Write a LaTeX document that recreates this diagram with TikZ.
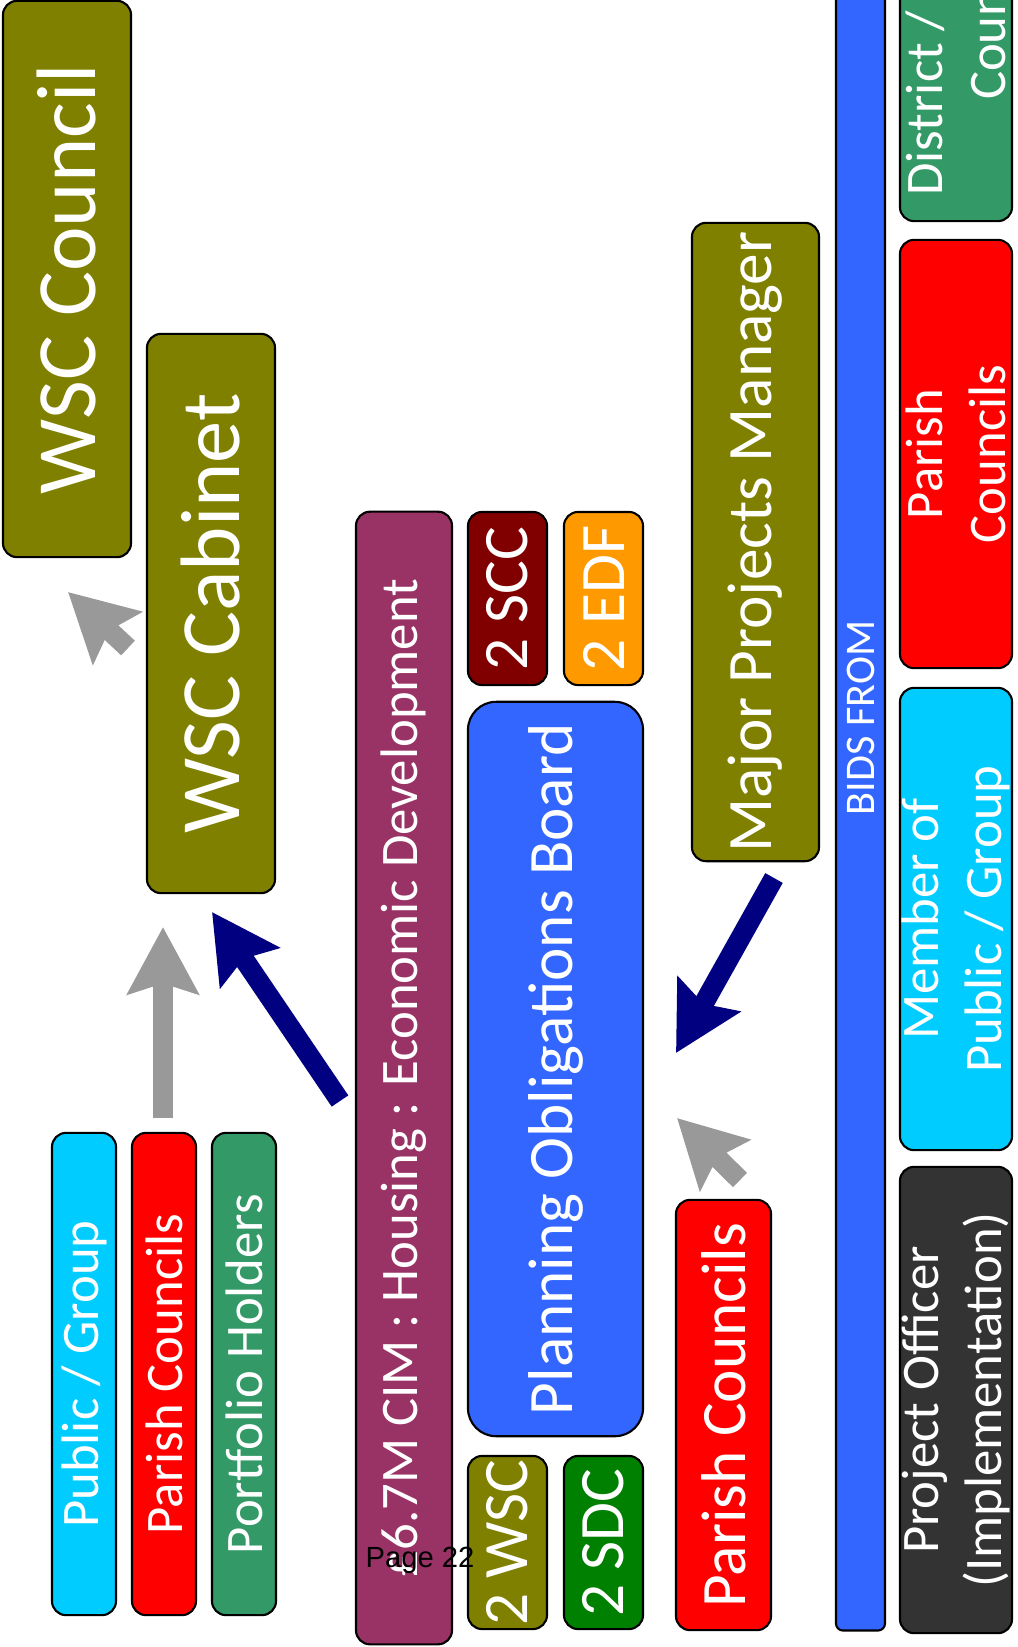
\documentclass[tikz,border=0pt]{standalone}
\usepackage{fontspec}
\setmainfont{Carlito}
\newfontfamily\pagefont{Liberation Sans}
\usetikzlibrary{arrows.meta}
\definecolor{wscolive}{HTML}{808000}
\definecolor{cimplum}{HTML}{993366}
\definecolor{sccred}{HTML}{800000}
\definecolor{edforange}{HTML}{FF9900}
\definecolor{pobblue}{HTML}{3366FF}
\definecolor{sdcgreen}{HTML}{008000}
\definecolor{teal}{HTML}{339966}
\definecolor{skycyan}{HTML}{00CCFF}
\definecolor{parishred}{HTML}{FF0000}
\definecolor{officer}{HTML}{333333}
\definecolor{flownavy}{HTML}{000080}
\definecolor{flowgrey}{HTML}{999999}
\tikzset{
  % lådor
  blk/.style={draw=black,line width=0.6pt,rounded corners=4pt,text=white,
              rotate=90,inner sep=0pt,align=center},
  hugetxt/.style={font=\fontsize{24}{29}\selectfont},
  bigtxt/.style={font=\fontsize{18}{22}\selectfont},
  midtxt/.style={font=\fontsize{15}{18}\selectfont},
  smltxt/.style={font=\fontsize{12}{14}\selectfont},
  % pilar
  flow/.style={line width=5.7pt,-{Stealth[length=19pt,width=20pt,inset=3pt]}},
  greyflow/.style={flow,draw=flowgrey},
  navyflow/.style={flow,draw=flownavy},
}
\begin{document}
\begin{tikzpicture}[x=0.01cm,y=-0.01cm]
  \useasboundingbox (0,0) rectangle (1017,1647);
  % vänster kolumn
  \node[blk,hugetxt,fill=wscolive,minimum width=5.56cm,minimum height=1.28cm] (council) at (67,279) {WSC Council};
  \node[blk,hugetxt,fill=wscolive,minimum width=5.59cm,minimum height=1.28cm] (cabinet) at (211,613.5) {WSC Cabinet};
  \node[blk,midtxt,fill=skycyan,minimum width=4.82cm,minimum height=0.64cm] (pubgrp) at (84,1374) {Public / Group};
  \node[blk,midtxt,fill=parishred,minimum width=4.82cm,minimum height=0.64cm] (parisha) at (164,1374) {Parish Councils};
  \node[blk,midtxt,fill=teal,minimum width=4.82cm,minimum height=0.64cm] (portf) at (244,1374) {Portfolio Holders};
  % mitten
  \node[blk,midtxt,fill=cimplum,minimum width=11.32cm,minimum height=0.96cm] (cim) at (404,1078) {£6.7M CIM : Housing : Economic Development};
  \node[blk,bigtxt,fill=sccred,minimum width=1.73cm,minimum height=0.79cm] (scc) at (507.5,598.5) {2 SCC};
  \node[blk,bigtxt,fill=edforange,minimum width=1.73cm,minimum height=0.79cm] (edf) at (603.5,598.5) {2 EDF};
  \node[blk,bigtxt,fill=pobblue,rounded corners=8pt,minimum width=7.34cm,minimum height=1.75cm] (pob) at (555.5,1069) {Planning Obligations Board};
  \node[blk,bigtxt,fill=wscolive,minimum width=1.73cm,minimum height=0.79cm] (wsc) at (507.5,1542.5) {2 WSC};
  \node[blk,bigtxt,fill=sdcgreen,minimum width=1.73cm,minimum height=0.79cm] (sdc) at (603.5,1542.5) {2 SDC};
  \node[blk,bigtxt,fill=wscolive,minimum width=6.38cm,minimum height=1.27cm] (mpm) at (755.5,542) {Major Projects Manager};
  \node[blk,bigtxt,fill=parishred,minimum width=4.30cm,minimum height=0.95cm] (parishb) at (723.5,1415) {Parish Councils};
  % höger kolumn
  \node[blk,smltxt,fill=pobblue,rounded corners=2pt,minimum width=18.24cm,minimum height=0.49cm] (bids) at (860.5,718) {BIDS FROM};
  \node[blk,midtxt,fill=teal,minimum width=4.00cm,minimum height=1.12cm] (dist) at (956,21) {District / County\\Council};
  \node[blk,midtxt,fill=parishred,minimum width=4.28cm,minimum height=1.12cm] (parishc) at (956,454) {Parish\\Councils};
  \node[blk,midtxt,fill=skycyan,minimum width=4.62cm,minimum height=1.12cm] (member) at (956,919) {Member of\\Public / Group};
  \node[blk,midtxt,fill=officer,minimum width=4.66cm,minimum height=1.12cm] (projoff) at (956,1400) {Project Officer\\(Implementation)};
  % pilar
  \coordinate (g1s) at (128,648);
  \coordinate (g1e) at (68,592);
  \coordinate (g2s) at (163,1118);
  \coordinate (g2e) at (163,927);
  \coordinate (n1s) at (340,1101);
  \coordinate (n1e) at (212,912);
  \coordinate (n2s) at (774,878);
  \coordinate (n2e) at (676,1053);
  \coordinate (g3s) at (740,1180);
  \coordinate (g3e) at (677,1118);
  \draw[greyflow] (g1s) -- (g1e);
  \draw[greyflow] (g2s) -- (g2e);
  \draw[navyflow] (n1s) -- (n1e);
  \draw[navyflow] (n2s) -- (n2e);
  \draw[greyflow] (g3s) -- (g3e);
  \node[font=\pagefont\fontsize{8.3}{10}\selectfont,inner sep=0pt] (page) at (420,1560) {Page 22};
\end{tikzpicture}
\end{document}
